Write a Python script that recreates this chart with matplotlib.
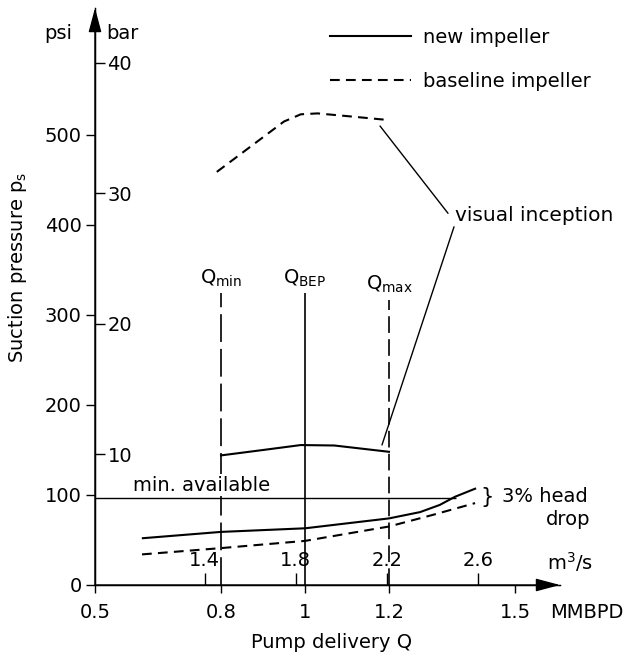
import matplotlib
matplotlib.use('Agg')
import matplotlib.pyplot as plt

plt.rcParams['font.family'] = 'DejaVu Sans'
plt.rcParams['font.size'] = 14
plt.rcParams['mathtext.default'] = 'regular'
plt.rcParams['lines.scale_dashes'] = False

# pump delivery in MMBPD, suction pressure in psi
q_new_drop = [0.614, 0.8, 1.0, 1.2, 1.274, 1.321, 1.357, 1.405]
p_new_drop = [52, 59, 63, 74, 81, 89, 98, 107]

q_base_drop = [0.612, 0.8, 1.0, 1.2, 1.305, 1.405]
p_base_drop = [34, 41, 49, 65, 78, 91]

q_new_incep = [0.8, 0.9, 0.99, 1.07, 1.2]
p_new_incep = [144, 150, 155.5, 155, 148]

q_base_incep = [0.79, 0.95, 0.99, 1.03, 1.10, 1.19]
p_base_incep = [459, 515, 523, 524, 521, 517]

# Qmin, QBEP, Qmax markers
q_marks = [0.8, 1.0, 1.2]
q_mark_top = [324, 324, 317]
q_mark_labels = [r'Q$_{min}$', r'Q$_{BEP}$', r'Q$_{max}$']

p_min_available = 97

q_ticks = [0.5, 0.8, 1.0, 1.2, 1.5]
q_tick_labels = ['0.5', '0.8', '1', '1.2', '1.5']
psi_ticks = [0, 100, 200, 300, 400, 500]
bar_ticks = [10, 20, 30, 40]
m3s_ticks = [1.4, 1.8, 2.2, 2.6]

PSI_PER_BAR = 14.5038
M3S_PER_MMBPD = 1.8401

fig = plt.figure(figsize=(6.24, 6.54), dpi=100)
ax = fig.add_axes([95 / 624, 69 / 654, 465 / 624, 577 / 654])
ax.set_xlim(0.5, 0.5 + 465 / 420)
ax.set_ylim(0, 577 / 0.9)

ax.spines[['top', 'right']].set_visible(False)
ax.spines[['left', 'bottom']].set_linewidth(1.0)

ax.set_xticks(q_ticks)
ax.set_xticklabels(q_tick_labels)
ax.tick_params(axis='x', length=5.8, width=1, pad=7)
ax.set_yticks(psi_ticks)
ax.tick_params(axis='y', length=6.5, width=1, pad=3)

sy = ax.secondary_yaxis(0, functions=(lambda p: p / PSI_PER_BAR, lambda b: b * PSI_PER_BAR))
sy.set_alignment('right')
sy.set_yticks(bar_ticks)
sy.tick_params(length=7, width=1, pad=2)

sx = ax.secondary_xaxis(0, functions=(lambda q: q * M3S_PER_MMBPD, lambda m: m / M3S_PER_MMBPD))
sx.set_alignment('top')
sx.set_xticks(m3s_ticks)
sx.tick_params(length=8.6, width=1, pad=2)

# axis arrows drawn over the full spines
arrow = dict(arrowstyle='-|>,head_length=0.75,head_width=0.2', color='k', lw=1.0,
             shrinkA=0, shrinkB=0, mutation_scale=20)
ax.annotate('', xy=(1, 0), xytext=(0, 0), xycoords='axes fraction', arrowprops=arrow,
            annotation_clip=False)
ax.annotate('', xy=(0, 1), xytext=(0, 0), xycoords='axes fraction', arrowprops=arrow,
            annotation_clip=False)

# curves
ax.plot(q_new_drop, p_new_drop, color='k', lw=1.5, label='new impeller')
ax.plot(q_base_drop, p_base_drop, color='k', lw=1.5, dashes=(7, 4.5), label='baseline impeller')
ax.plot(q_new_incep, p_new_incep, color='k', lw=1.5)
ax.plot(q_base_incep, p_base_incep, color='k', lw=1.5, dashes=(7, 4.5))

# Q markers
styles = [(0, (20, 5)), '-', (0, (12, 4.5))]
for q, top, lab, ls in zip(q_marks, q_mark_top, q_mark_labels, styles):
    ax.vlines(q, 0, top, color='k', lw=1.2, linestyles=[ls])
    ax.text(q, top + 5, lab, ha='center', va='bottom')

ax.hlines(p_min_available, 0.5, 1.36, color='k', lw=1.0)
ax.text(0.59, 111, 'min. available', va='center',
        bbox=dict(fc='white', ec='none', pad=1))

ax.text(1.433, 97.8, '}', ha='center', va='center', fontsize=15)
ax.text(1.469, 97.8, '3% head', va='center')
ax.text(1.574, 73, 'drop', va='center')

# visual inception leaders
ax.text(1.357, 411, 'visual inception', va='center', fontsize=14.5)
ax.annotate('', xy=(1.1786, 510), xytext=(1.3405, 413),
            arrowprops=dict(arrowstyle='-', color='k', lw=1.0, shrinkA=0, shrinkB=0))
ax.annotate('', xy=(1.1833, 155.6), xytext=(1.3548, 398),
            arrowprops=dict(arrowstyle='-', color='k', lw=1.0, shrinkA=0, shrinkB=0))

ax.legend(loc='upper left', bbox_to_anchor=(0.505, 0.965), frameon=False,
          handlelength=4.2, handletextpad=0.6, labelspacing=1.25,
          borderpad=0, borderaxespad=0)

ax.text(-0.0796, 0.955, 'psi', transform=ax.transAxes, ha='center', va='center')
ax.text(0.058, 0.955, 'bar', transform=ax.transAxes, ha='center', va='center')
ax.text(0.9785, -0.0468, 'MMBPD', transform=ax.transAxes, va='center')
ax.text(0.972, 0.0399, 'm$^3$/s', transform=ax.transAxes, va='center')
ax.text(0.508, -0.1, 'Pump delivery Q', transform=ax.transAxes, ha='center', va='center')
ax.text(-0.166, 0.551, 'Suction pressure p$_s$', transform=ax.transAxes,
        ha='center', va='center', rotation=90)

fig.savefig('out.png', dpi=100)
